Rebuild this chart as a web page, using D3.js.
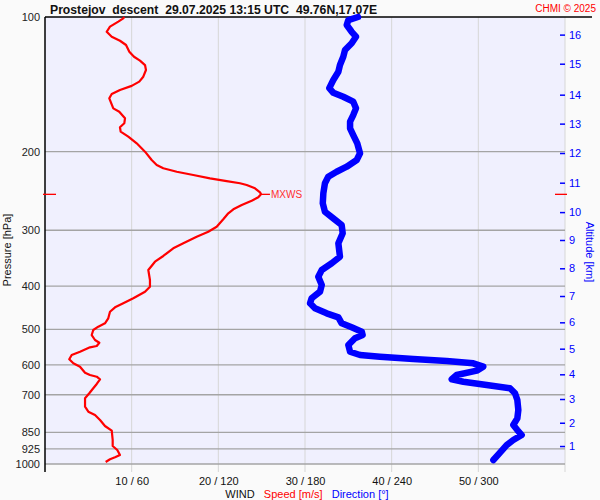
<!DOCTYPE html>
<html>
<head>
<meta charset="utf-8">
<script src="https://cdn.jsdelivr.net/npm/d3@7"></script>
<style>
  html, body { margin: 0; padding: 0; background: #fafafa; }
  svg { display: block; font-family: "Liberation Sans", Arial, sans-serif; }
</style>
</head>
<body>
<svg id="chart" width="600" height="500"></svg>
<script>
// ---------------- DATA ----------------
const titleText = "Prostejov\u00a0\u00a0descent\u00a0\u00a029.07.2025 13:15 UTC\u00a0\u00a049.76N,17.07E";
const pressureTicks = [100, 200, 300, 400, 500, 600, 700, 850, 925, 1000];
const windTicks = [10, 20, 30, 40, 50];          // speed m/s (direction = 6x)
const altitudeKm = [16, 15, 14, 13, 12, 11, 10, 9, 8, 7, 6, 5, 4, 3, 2, 1];
const altitudePressure = [109.5, 127.2, 149.2, 173.2, 201.5, 234.8, 273.2, 315.4,
                          364.9, 420.9, 482.0, 552.1, 630.0, 715.5, 808.5, 911.6];

// wind speed profile (m/s) vs pressure (hPa)
const speedPressure = [100, 100.7, 102.4, 105.1, 107.9, 110.7, 113.0, 115.5, 119.6, 122.7,
  125.2, 128.1, 131.4, 136.0, 139.5, 142.6, 145.6, 148.7, 152.0, 160.1,
  162.9, 168.5, 172.9, 176.5, 180.5, 185.2, 191.7, 200.1, 208.9, 214.3,
  218.0, 221.9, 225.7, 229.6, 232.8, 235.5, 237.6, 241.7, 246.7, 249.3,
  253.2, 257.6, 263.4, 269.3, 274.9, 283.5, 294.5, 302.2, 310.1, 320.8,
  329.2, 342.5, 352.7, 368.1, 387.6, 401.2, 411.6, 425.9, 437.1, 446.2,
  456.5, 472.1, 484.5, 493.0, 501.5, 514.6, 528.0, 535.4, 544.5, 548.2,
  560.8, 570.4, 583.2, 595.3, 605.8, 624.8, 632.3, 637.9, 646.4, 662.2,
  676.9, 694.6, 712.8, 744.3, 763.8, 777.0, 797.3, 822.3, 842.4, 883.7,
  911.5, 930.5, 954.7, 966.1, 976.1, 989.7];
const speedValues = [9.15, 9.03, 8.46, 7.50, 7.12, 7.70, 8.65, 9.35, 9.73, 10.27,
  10.96, 11.54, 11.65, 11.34, 10.88, 10.00, 8.65, 7.70, 7.42, 7.88,
  8.57, 9.23, 9.15, 8.65, 8.73, 9.61, 10.58, 11.54, 12.31, 12.89,
  13.65, 15.20, 17.11, 19.04, 20.96, 22.50, 23.27, 24.23, 24.81, 24.92,
  24.61, 23.85, 22.70, 21.73, 21.15, 20.57, 19.81, 18.84, 17.50, 15.96,
  14.80, 13.65, 12.69, 11.92, 12.11, 12.11, 11.54, 10.19, 9.03, 8.08,
  7.50, 7.30, 6.92, 6.15, 5.57, 5.39, 5.77, 6.27, 5.97, 5.19,
  4.04, 3.08, 2.80, 3.27, 4.04, 4.62, 5.19, 5.97, 6.35, 5.97,
  5.57, 5.11, 4.62, 4.62, 5.00, 5.77, 6.35, 6.92, 7.70, 7.81,
  7.81, 8.34, 8.65, 8.08, 7.50, 7.00];

// wind direction profile (deg) vs pressure (hPa)
const dirPressure = [100, 101.6, 104.2, 107.9, 110.7, 114.5, 118.5, 122.7, 128.1, 132.6,
  138.3, 144.3, 147.7, 150.8, 154.7, 160.1, 165.7, 171.5, 177.4, 183.7,
  191.7, 201.8, 208.9, 216.2, 221.9, 227.7, 235.5, 248.0, 261.1, 272.7,
  282.1, 292.0, 304.7, 320.8, 343.7, 355.6, 368.1, 381.1, 397.7, 411.6,
  425.9, 437.1, 448.5, 460.2, 469.8, 484.5, 494.6, 505.8, 514.6, 523.4,
  541.8, 560.8, 570.4, 575.4, 582.2, 588.3, 595.3, 605.8, 618.4, 632.3,
  646.4, 654.5, 665.7, 676.9, 694.6, 719.1, 757.1, 790.3, 818.1, 839.4,
  861.3, 883.7, 907.0, 943.4, 979.7];
const dirValues = [216.7, 210.0, 208.9, 212.3, 215.3, 212.3, 207.7, 206.5, 204.2, 203.1,
  199.6, 196.8, 199.6, 206.5, 213.4, 215.3, 213.4, 211.2, 211.2, 213.4,
  216.2, 218.1, 215.8, 208.9, 201.9, 196.1, 193.8, 192.7, 192.3, 193.8,
  199.6, 205.4, 206.1, 203.1, 204.2, 198.5, 191.6, 189.2, 191.6, 190.4,
  184.6, 183.5, 186.9, 195.0, 203.1, 205.4, 212.3, 219.3, 219.9, 214.6,
  210.0, 211.2, 218.1, 231.9, 255.0, 278.1, 296.5, 303.4, 298.9, 285.0,
  281.6, 289.6, 305.8, 321.9, 325.4, 327.0, 327.7, 327.0, 324.2, 327.0,
  330.0, 324.2, 319.6, 315.0, 310.4];

// maximum wind
const maxWindPressure = 249.3;
const maxWindSpeed = 24.92;

// ---------------- CHART ----------------
const svg = d3.select("#chart");
const mLeft = 45, mRight = 565, mTop = 17, mBottom = 464;

const y = d3.scaleLog().domain([100, 1000]).range([mTop, mBottom]);
const xs = d3.scaleLinear().domain([0, 60]).range([mLeft, mRight]);
const xd = d3.scaleLinear().domain([0, 360]).range([mLeft, mRight]);

// background
svg.append("rect").attr("width", 600).attr("height", 500).attr("fill", "#fafafa");
svg.append("rect").attr("x", mLeft).attr("y", mTop).attr("width", mRight - mLeft)
  .attr("height", mBottom - mTop).attr("fill", "#f0f0fe");

// vertical grid lines
svg.append("g").selectAll("line").data(windTicks.concat([60])).join("line")
  .attr("x1", d => xs(d)).attr("x2", d => xs(d))
  .attr("y1", mTop).attr("y2", mBottom + 8)
  .attr("stroke", "#d6d6d6").attr("stroke-width", 1);

// horizontal grid lines
svg.append("g").selectAll("line").data(pressureTicks.slice(1)).join("line")
  .attr("x1", mLeft).attr("x2", mRight)
  .attr("y1", d => y(d)).attr("y2", d => y(d))
  .attr("stroke", "#a4a4a4").attr("stroke-width", 1.3);

// top line and left axis line
svg.append("line").attr("x1", mLeft).attr("x2", 592).attr("y1", mTop).attr("y2", mTop)
  .attr("stroke", "#000").attr("stroke-width", 1.5);
svg.append("line").attr("x1", mLeft).attr("x2", mLeft).attr("y1", mTop).attr("y2", mBottom + 8)
  .attr("stroke", "#000").attr("stroke-width", 1.5);

// left axis labels
const gL = svg.append("g").attr("transform", `translate(${mLeft},0)`)
  .call(d3.axisLeft(y).tickValues(pressureTicks).tickFormat(d3.format("d"))
    .tickSize(0).tickPadding(5));
gL.select(".domain").remove();
gL.selectAll("text").attr("font-size", 11).attr("fill", "#222")
  .attr("font-family", "Liberation Sans, Arial, sans-serif");

// bottom axis labels
const gB = svg.append("g").attr("transform", `translate(0,${mBottom + 8})`)
  .call(d3.axisBottom(xs).tickValues(windTicks).tickFormat(d => `${d} / ${d * 6}`)
    .tickSize(0).tickPadding(5));
gB.select(".domain").remove();
gB.selectAll("text").attr("font-size", 11).attr("fill", "#111")
  .attr("font-family", "Liberation Sans, Arial, sans-serif");

// right altitude axis
const gR = svg.append("g").attr("transform", `translate(${mRight - 5},0)`)
  .call(d3.axisRight(y).tickValues(altitudePressure)
    .tickFormat((d, i) => altitudeKm[i]).tickSize(5).tickPadding(4));
gR.select(".domain").remove();
gR.selectAll("line").attr("stroke", "#0000ff").attr("stroke-width", 1.5);
gR.selectAll("text").attr("font-size", 11).attr("fill", "#0000ff")
  .attr("font-family", "Liberation Sans, Arial, sans-serif");

// axis titles
svg.append("text").attr("transform", "translate(11,250) rotate(-90)")
  .attr("text-anchor", "middle").attr("font-size", 11).attr("fill", "#111")
  .text("Pressure [hPa]");
svg.append("text").attr("transform", "translate(586,252) rotate(90)")
  .attr("text-anchor", "middle").attr("font-size", 11).attr("fill", "#0000ff")
  .text("Altitude [km]");

const leg = svg.append("text").attr("x", 307).attr("y", 497.5)
  .attr("text-anchor", "middle").attr("font-size", 11);
leg.append("tspan").attr("fill", "#111").text("WIND\u00a0\u00a0\u00a0");
leg.append("tspan").attr("fill", "#ff0000").text("Speed [m/s]\u00a0\u00a0\u00a0");
leg.append("tspan").attr("fill", "#0000ff").text("Direction [°]");

// title
svg.append("text").attr("x", 50).attr("y", 13.5).attr("font-size", 12.2)
  .attr("font-weight", "bold").attr("fill", "#111")
  .text(titleText);
svg.append("text").attr("x", 596).attr("y", 11.5).attr("text-anchor", "end")
  .attr("font-size", 10).attr("fill", "#ff0000").text("CHMI © 2025");

// curves
const speedLine = d3.line().x(d => xs(d[0])).y(d => y(d[1]));
const dirLine = d3.line().x(d => xd(d[0])).y(d => y(d[1]));

svg.append("path")
  .datum(dirValues.map((v, i) => [v, dirPressure[i]]))
  .attr("d", dirLine).attr("fill", "none").attr("stroke", "#0000ff")
  .attr("stroke-width", 6.5).attr("stroke-linejoin", "round").attr("stroke-linecap", "round");

svg.append("path")
  .datum(speedValues.map((v, i) => [v, speedPressure[i]]))
  .attr("d", speedLine).attr("fill", "none").attr("stroke", "#ff0000")
  .attr("stroke-width", 2.2).attr("stroke-linejoin", "round");

// max wind markers
const ym = y(maxWindPressure);
svg.append("line").attr("x1", mLeft - 2).attr("x2", mLeft + 11).attr("y1", ym).attr("y2", ym)
  .attr("stroke", "#ff0000").attr("stroke-width", 1.3);
svg.append("line").attr("x1", mRight - 10).attr("x2", mRight + 2).attr("y1", ym).attr("y2", ym)
  .attr("stroke", "#ff0000").attr("stroke-width", 1.3);
svg.append("line").attr("x1", xs(maxWindSpeed)).attr("x2", xs(maxWindSpeed) + 9)
  .attr("y1", ym).attr("y2", ym).attr("stroke", "#ff0000").attr("stroke-width", 1.3);
svg.append("text").attr("x", xs(maxWindSpeed) + 10).attr("y", ym).attr("dy", "0.35em")
  .attr("font-size", 10).attr("fill", "#ff3030").text("MXWS");
</script>
</body>
</html>
